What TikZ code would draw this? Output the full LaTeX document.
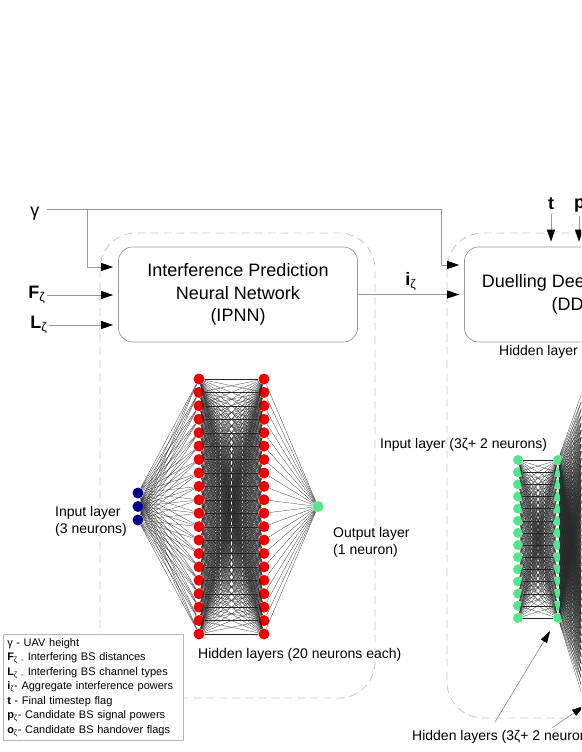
\documentclass[tikz,border=0pt]{standalone}
\usepackage{fontspec}
\setmainfont{Liberation Sans}
\usetikzlibrary{arrows.meta,positioning,calc}
\definecolor{nred}{RGB}{238,0,0}
\definecolor{nblue}{RGB}{0,0,140}
\definecolor{ngreen}{RGB}{84,228,140}
\definecolor{dg}{RGB}{150,150,150}
\definecolor{lb}{RGB}{184,198,220}
\tikzset{
    neuron/.style =  {circle,
                    inner sep=0pt,
                    minimum size=11pt},
    redn/.style =    {neuron, fill=nred},
    bluen/.style =   {neuron, fill=nblue},
    greenn/.style =  {neuron, fill=ngreen},
    smalln/.style =  {neuron, fill=ngreen, minimum size=10pt},
    netbox/.style =  {rectangle,
                    rounded corners=14pt,
                    draw=dg,
                    line width=0.7pt,
                    align=center,
                    minimum width=239pt,
                    minimum height=95pt,
                    font=\fontsize{18}{22.5}\selectfont},
    group/.style =   {draw=lb,
                    dash pattern=on 8pt off 5pt,
                    line width=0.8pt,
                    rounded corners=36pt},
    link/.style =    {draw=black!85, line width=0.25pt},
    feed/.style =    {draw=dg, line width=0.7pt,
                    -{Triangle[length=12pt,width=8pt,color=black]},
                    shorten >=5pt},
    pointer/.style = {draw=black!60, line width=0.4pt,
                    -{Triangle[length=12pt,width=7pt,color=black]}},
    inlabel/.style = {font=\fontsize{18}{22}\selectfont, inner sep=1pt},
    caption/.style = {font=\fontsize{14}{17}\selectfont, align=left, inner sep=0pt},
    legend/.style =  {draw=dg!70, fill=white, line width=0.5pt,
                    align=left, text width=172pt, inner sep=4pt,
                    font=\fontsize{11}{14.5}\selectfont}
}

\begin{document}
\begin{tikzpicture}[x=1pt,y=-1pt]
    \useasboundingbox (0,0) rectangle (581,752);
    \clip (0,0) rectangle (581,752);

    % dashed groups
    \draw[group] (100,233) rectangle (375,698);
    \draw[group] (447,233) rectangle (760,718);

    % the two networks
    \node[netbox] (ipnn) at (238,294.5) {Interference Prediction\\Neural Network\\(IPNN)};
    \node[netbox] (ddqn) at (584,294.5) {Duelling Deep Q-Network\\(DDQN)};

    % inputs
    \node[inlabel] (gamma) at (35,214) {γ};
    \node[inlabel] (F) at (37,295) {\textbf{F}\textsubscript{ζ}};
    \node[inlabel] (L) at (39,325) {\textbf{L}\textsubscript{ζ}};
    \node[inlabel] (t) at (551,204) {\textbf{t}};
    \node[inlabel, anchor=west] (p) at (573,206) {\textbf{p}\textsubscript{ζ}};
    \coordinate (gsrc) at (47,209);
    \coordinate (gcorner) at (441,209);
    \coordinate (gbranch) at (87,209);
    \coordinate (pdrop) at (579,216);

    \draw[feed] (gsrc) -- (gcorner) |- ($(ddqn.west)+(0,-29.5)$);
    \draw[feed] (gbranch) |- ($(ipnn.west)+(0,-27.5)$);
    \draw[feed] (F.east) -- (F.east -| ipnn.west);
    \draw[feed] (L.east) -- (L.east -| ipnn.west);
    \draw[feed] (ipnn.east) -- (ddqn.west)
        node[midway, above, inlabel, inner sep=3pt] (iz) {\textbf{i}\textsubscript{ζ}};
    \draw[feed, shorten <=3pt] (t.south) -- (t.south |- ddqn.north);
    \draw[feed] (pdrop) -- (pdrop |- ddqn.north);

    \node[caption, anchor=west] (hlcap) at (499,352) {Hidden layer};

    % IPNN layers
    \foreach \k in {1,...,3}
        \node[bluen] (ipin\k) at (138,{493+(\k-1)*13.5}) {};
    \foreach \k in {1,...,20}{
        \node[redn] (ipha\k) at (199,{379+(\k-1)*13.42}) {};
        \node[redn] (iphb\k) at (264,{379+(\k-1)*13.42}) {};
    }
    \node[greenn] (ipout) at (318,506.5) {};
    \foreach \a in {1,...,3}
        \foreach \b in {1,...,20}
            \draw[link] (ipin\a) -- (ipha\b);
    \foreach \a in {1,...,20}{
        \draw[link] (iphb\a) -- (ipout);
        \foreach \b in {1,...,20}
            \draw[link] (ipha\a) -- (iphb\b);
    }

    % DDQN layers
    \foreach \k in {1,...,14}{
        \node[smalln] (dqin\k) at (518,{460+(\k-1)*12.15}) {};
        \node[smalln] (dqh\k) at (558,{460+(\k-1)*12.15}) {};
    }
    \foreach \k in {1,...,30}
        \node[smalln] (dqhc\k) at (615,{300+(\k-1)*17.24}) {};
    \foreach \a in {1,...,14}{
        \foreach \b in {1,...,14}
            \draw[link] (dqin\a) -- (dqh\b);
        \foreach \b in {1,...,30}
            \draw[link] (dqh\a) -- (dqhc\b);
    }

    % captions
    \node[caption, anchor=west] (ipincap) at (55,521.5) {Input layer\\(3 neurons)};
    \node[caption, anchor=west] (ipoutcap) at (333,542.5) {Output layer\\(1 neuron)};
    \node[caption, anchor=west] (iphcap) at (198,655) {Hidden layers (20 neurons each)};
    \node[caption, anchor=west] (dqincap) at (380,445) {Input layer (3ζ+ 2 neurons)};
    \node[caption, anchor=west] (dqhcap) at (412,737) {Hidden layers (3ζ+ 2 neurons)};
    \coordinate (hl1) at (495,722);
    \coordinate (hl2) at (552,728);
    \coordinate (hlt2) at (584,706);
    \draw[pointer, shorten >=10pt] (hl1) -- (dqh14);
    \draw[pointer] (hl2) -- (hlt2);

    % legend
    \node[legend, anchor=north west] (key) at (3,634) {%
        γ - UAV height\\
        \textbf{F}\textsubscript{ζ -} Interfering BS distances\\
        \textbf{L}\textsubscript{ζ -} Interfering BS channel types\\
        \textbf{i}\textsubscript{ζ}- Aggregate interference powers\\
        \textbf{t} - Final timestep flag\\
        \textbf{p}\textsubscript{ζ}- Candidate BS signal powers\\
        \textbf{o}\textsubscript{ζ}- Candidate BS handover flags};
\end{tikzpicture}
\end{document}
